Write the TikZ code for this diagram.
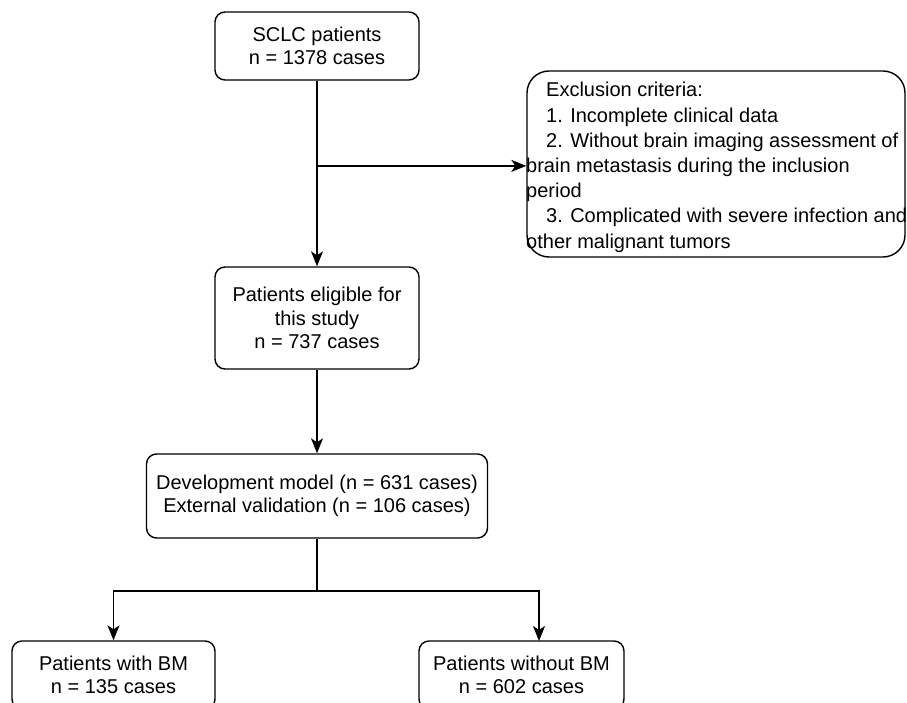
\documentclass[tikz,border=0pt]{standalone}
\usepackage{fontspec}
\setmainfont{Liberation Sans}
\usetikzlibrary{arrows.meta,calc}
\begin{document}
\begin{tikzpicture}[x=1pt,y=-1pt,
  box/.style={draw, line width=1.4pt, rounded corners=10pt, align=center,
    inner sep=0pt, font=\fontsize{20}{23.5}\selectfont},
  conn/.style={line width=1.4pt, -{Stealth[length=15pt,width=12pt,inset=4pt]}},
  plainline/.style={line width=1.4pt}
]
\useasboundingbox (0,0) rectangle (907,703);
\fill[white] (0,0) rectangle (907,703);

\node[box, minimum width=204pt, minimum height=68pt] (sclc) at (317,46)
  {SCLC patients\\n = 1378 cases};
\node[box, minimum width=204pt, minimum height=102pt] (elig) at (317,318)
  {Patients eligible for\\this study\\n = 737 cases};
\node[box, minimum width=341pt, minimum height=84pt] (dev) at (317,496)
  {Development model (n = 631 cases)\\External validation (n = 106 cases)};
\node[box, minimum width=203pt, minimum height=68pt] (bm) at (113.5,675)
  {Patients with BM\\n = 135 cases};
\node[box, minimum width=205pt, minimum height=68pt] (nobm) at (521.5,675)
  {Patients without BM\\n = 602 cases};

\node[draw, line width=1.4pt, rounded corners=22pt, inner sep=0pt,
  minimum width=378pt, minimum height=186pt] (excl) at (716,164) {};
\node[anchor=base west, inner sep=0pt] (excltext) at (526,97)
  {\parbox[t]{440pt}{\fontsize{20}{25.2}\selectfont
   \hspace*{20pt}Exclusion criteria:\\
   \hspace*{20pt}1. Incomplete clinical data\\
   \hspace*{20pt}2. Without brain imaging assessment of\\
   brain metastasis during the inclusion\\
   period\\
   \hspace*{20pt}3. Complicated with severe infection and\\
   other malignant tumors}};

\coordinate (j1) at ($(sclc.south)!0.459!(elig.north)$);
\coordinate (j2) at (317,591);
\coordinate (nobmtop) at (539,641);

\draw[conn] (sclc.south) -- (elig.north);
\draw[conn] (j1) -- (j1 -| excl.west);
\draw[conn] (elig.south) -- (dev.north);
\draw[plainline] (dev.south) -- (j2);
\draw[conn] (j2) -| (bm.north);
\draw[conn] (j2) -| (nobmtop);
\end{tikzpicture}
\end{document}
